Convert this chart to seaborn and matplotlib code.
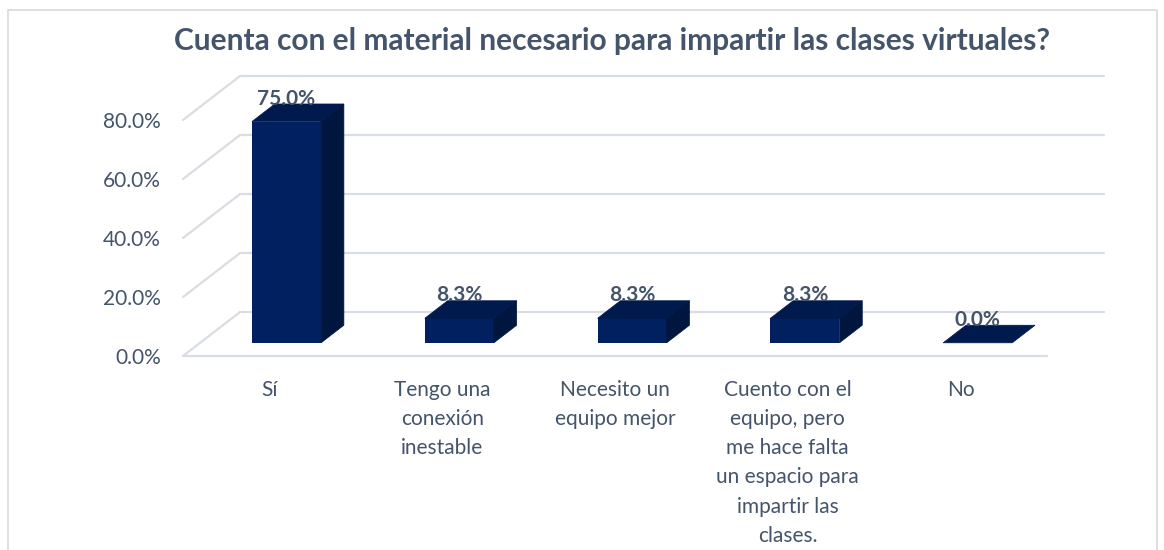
import matplotlib
matplotlib.use("Agg")
import matplotlib.pyplot as plt
from matplotlib.patches import Polygon, Rectangle
import seaborn as sns

# Chart data
categories = ["Sí", "Tengo una conexión inestable", "Necesito un equipo mejor",
              "Cuento con el equipo, pero me hace falta un espacio para impartir las clases.", "No"]
values = [75.0, 8.3, 8.3, 8.3, 0.0]
tick_labels = ["Sí", "Tengo una\nconexión\ninestable", "Necesito un\nequipo mejor",
               "Cuento con el\nequipo, pero\nme hace falta\nun espacio para\nimpartir las\nclases.", "No"]
y_ticks = [0, 20, 40, 60, 80]

title = "Cuenta con el material necesario para impartir las clases virtuales?"

sns.set_style("white")
plt.rcParams['font.family'] = ['Lato', 'DejaVu Sans']

TEXT = '#44546a'
FRONT = '#002060'
TOP = '#001a4e'
SIDE = '#00163f'
GRID = '#d9dde4'

# depth of the 3d box (data units) and position of bars inside it
DX, DY = 0.33, 14.9
F1, F2 = 0.3, 0.7
BAR_W = 0.4

fig = plt.figure(figsize=(11.64, 5.5), dpi=100)
ax = fig.add_axes([183 / 1164, 194 / 550, 864 / 1164, 236 / 550])

df = {"cat": categories, "val": values}
sns.barplot(x="cat", y="val", data=df, color=FRONT, width=BAR_W, saturation=1,
            edgecolor='none', linewidth=0, ax=ax, zorder=3)
ax.set_xlim(-0.5, 4.5)
ax.set_ylim(0, 80)

# walls: back gridlines, side diagonals and front floor edge
for v in y_ticks:
    ax.plot([-0.5 + DX, 4.5 + DX], [v + DY, v + DY], color=GRID, lw=1.6, zorder=1, clip_on=False)
    ax.plot([-0.5, -0.5 + DX], [v, v + DY], color=GRID, lw=1.6, zorder=1, clip_on=False)
ax.plot([-0.5, 4.5], [0, 0], color=GRID, lw=1.6, zorder=1, clip_on=False)

ddx = (F2 - F1) * DX
ddy = (F2 - F1) * DY
for p, v in zip(ax.patches, values):
    x0 = p.get_x() + F1 * DX
    y0 = F1 * DY
    p.set_x(x0)
    p.set_y(y0)
    p.set_clip_on(False)
    x1 = x0 + p.get_width()
    top = y0 + v
    ax.add_patch(Polygon([(x0, top), (x1, top), (x1 + ddx, top + ddy), (x0 + ddx, top + ddy)],
                         closed=True, fc=TOP, ec=TOP, lw=0.5, zorder=4, clip_on=False))
    if v > 0:
        ax.add_patch(Polygon([(x1, y0), (x1 + ddx, y0 + ddy), (x1 + ddx, top + ddy), (x1, top)],
                             closed=True, fc=SIDE, ec=SIDE, lw=0.5, zorder=4, clip_on=False))
    ax.text((x0 + x1) / 2, top + ddy - 0.2, f"{v:.1f}%", ha='center', va='baseline',
            fontsize=15, fontweight='bold', color=TEXT, zorder=5)

ax.set_yticks(y_ticks)
ax.set_yticklabels([f"{v:.1f}%" for v in y_ticks], fontsize=15, color=TEXT)
ax.set_xticks(range(len(categories)))
ax.set_xticklabels(tick_labels, fontsize=15, color=TEXT, linespacing=1.58)
ax.tick_params(axis='y', length=0, pad=16)
ax.tick_params(axis='x', length=0, pad=17)
ax.set_xlabel("")
ax.set_ylabel("")
sns.despine(ax=ax, left=True, bottom=True)
ax.patch.set_alpha(0)

fig.text(612 / 1164, 1 - 41 / 550, title, ha='center', va='center',
         fontsize=21.5, fontweight='bold', color=TEXT)

fig.add_artist(Rectangle((8 / 1164, -0.1), 1149 / 1164, (540 / 550) + 0.1,
                         transform=fig.transFigure, fill=False, ec='#d9d9d9', lw=1.2))

fig.savefig("out.png", dpi=100)
